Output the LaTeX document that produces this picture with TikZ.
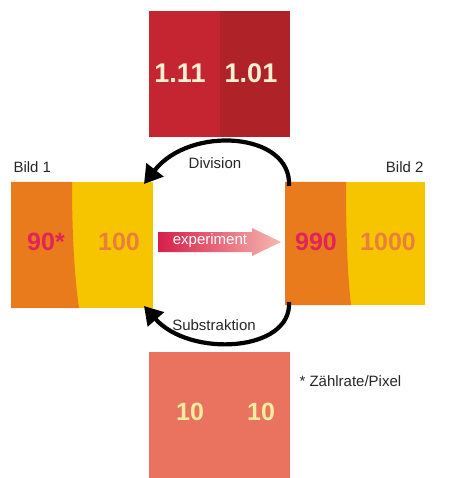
\documentclass[tikz,border=0pt]{standalone}
\usepackage{fontspec}
\setmainfont{Liberation Sans}
\usetikzlibrary{arrows.meta}
\definecolor{topL}{HTML}{C52531}
\definecolor{topR}{HTML}{AF2228}
\definecolor{orng}{HTML}{E97B1C}
\definecolor{yell}{HTML}{F7C400}
\definecolor{salm}{HTML}{E9735F}
\definecolor{crim}{HTML}{E0245A}
\definecolor{onum}{HTML}{E8803A}
\definecolor{cream}{HTML}{F8F0D2}
\definecolor{paley}{HTML}{F6EDA0}
\definecolor{arrL}{HTML}{D61F4A}
\definecolor{arrR}{HTML}{F6B8B0}
\tikzset{
  bignum/.style={font=\fontsize{25}{25}\selectfont\bfseries},
  topnum/.style={font=\fontsize{27}{27}\selectfont\bfseries, text=cream},
  lbl/.style={font=\fontsize{15}{15}\selectfont, text=black!85},
  bow/.style={line width=4.2pt, -{Triangle[length=18pt,width=21pt]}},
}
\begin{document}
\begin{tikzpicture}[x=1pt,y=-1pt]
\useasboundingbox (0,0) rectangle (457,478);
% top square
\fill[topL] (149,11) rectangle (220,137);
\fill[topR] (220,11) rectangle (290,137);
\node[topnum] (t1) at (180,73) {1.11};
\node[topnum] (t2) at (251,73) {1.01};
% Bild 1
\fill[yell] (11,182) rectangle (153,308);
\fill[orng] (11,182) -- (72,182) .. controls (72,240) and (75,280) .. (79,308) -- (11,308) -- cycle;
\node[bignum, text=crim] (b1a) at (46,242) {90*};
\node[bignum, text=onum] (b1b) at (119,242) {100};
\node[lbl, anchor=west] (bild1) at (10,167) {Bild 1};
% Bild 2
\fill[yell] (285,182) rectangle (425,305);
\fill[orng] (285,182) -- (346,182) .. controls (346,240) and (348,280) .. (351,305) -- (285,305) -- cycle;
\node[bignum, text=crim] (b2a) at (316,242) {990};
\node[bignum, text=onum] (b2b) at (388,242) {1000};
\node[lbl, anchor=east] (bild2) at (427,167) {Bild 2};
% bottom square
\fill[salm] (149,352) rectangle (290,478);
\node[bignum, text=paley] (s1) at (190,412) {10};
\node[bignum, text=paley] (s2) at (261,412) {10};
\node[lbl, anchor=west] (note) at (296,381) {* Zählrate/Pixel};
% experiment arrow
\shade[left color=arrL, right color=arrR]
  (158,232) -- (252,232) -- (252,228) -- (281,242) -- (252,256) -- (252,252) -- (158,252) -- cycle;
\node[text=white, font=\fontsize{15}{15}\selectfont] (exp) at (210,240.5) {experiment};
% connectors
\coordinate (dS) at (289,186);
\coordinate (dE) at (144,184);
\coordinate (sS) at (289,302);
\coordinate (sE) at (144,306);
\draw[bow] (dS) .. controls (292,132) and (190,125) .. (dE);
\draw[bow] (sS) .. controls (292,352) and (190,358) .. (sE);
\node[lbl] (div) at (215,163) {Division};
\node[lbl] (sub) at (214,325) {Substraktion};
\end{tikzpicture}
\end{document}
